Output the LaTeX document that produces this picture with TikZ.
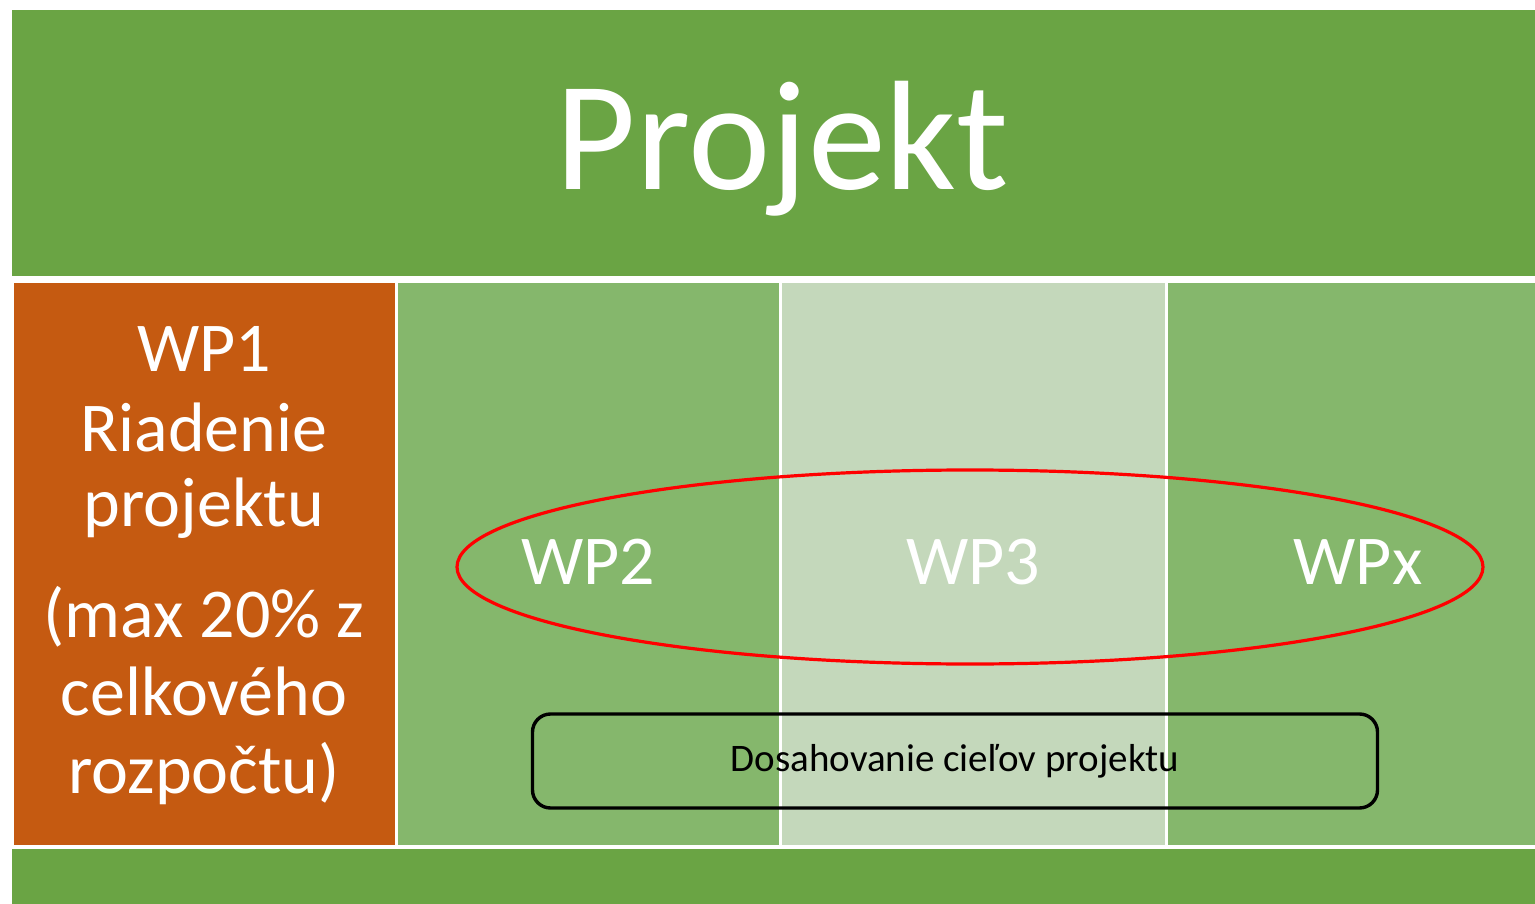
\documentclass[tikz,border=0pt]{standalone}
\usepackage{fontspec}
\setmainfont{Carlito}
\usetikzlibrary{shapes.geometric}
\definecolor{gdark}{HTML}{6AA444}
\definecolor{gmid}{HTML}{85B76C}
\definecolor{glight}{HTML}{C4D8BB}
\definecolor{orng}{HTML}{C55A11}
\tikzset{
  band/.style={fill=gdark, draw=white, line width=1.2pt},
  col/.style={draw=white, line width=3pt},
  lbl/.style={text=white, anchor=base, inner sep=0pt},
}
\begin{document}
\begin{tikzpicture}[x=1pt,y=-1pt]
\useasboundingbox[fill=white] (0,0) rectangle (1535,904);
% top band
\path[band] (11,9) rectangle (1540,277);
% columns
\path[col, fill=orng] (12,282) rectangle (396,846);
\path[col, fill=gmid] (396,282) rectangle (780,846);
\path[col, fill=glight] (780,282) rectangle (1166,846);
\path[col, fill=gmid] (1166,282) rectangle (1540,846);
% bottom band
\path[band] (11,848) rectangle (1540,910);
% title
\node[lbl, font=\fontsize{156}{190}\selectfont] (title) at (782,190) {Projekt};
% WP1
\node[lbl, align=center, font=\fontsize{70}{78}\selectfont] (wp1) at (204,793)
  {WP1\\[2pt]Riadenie\\[-3pt]projektu\\[33pt](max 20\% z\\celkového\\rozpočtu)};
% ellipse
\node[draw=red, line width=3.2pt, ellipse, minimum width=1026pt, minimum height=194pt, inner sep=0pt] (ell) at (970,567) {};
\node[lbl, font=\fontsize{70}{84}\selectfont] (wp2) at (588,584) {WP2};
\node[lbl, font=\fontsize{70}{84}\selectfont] (wp3) at (973,584) {WP3};
\node[lbl, font=\fontsize{70}{84}\selectfont] (wpx) at (1358,584) {WPx};
% goal box
\node[draw=black, line width=3.4pt, rounded corners=18pt, minimum width=845pt, minimum height=94pt, inner sep=0pt] (goal) at (955,761) {};
\node[anchor=base, inner sep=0pt, font=\fontsize{39}{46}\selectfont] (goaltext) at (955,771) {Dosahovanie cieľov projektu};
\end{tikzpicture}
\end{document}
